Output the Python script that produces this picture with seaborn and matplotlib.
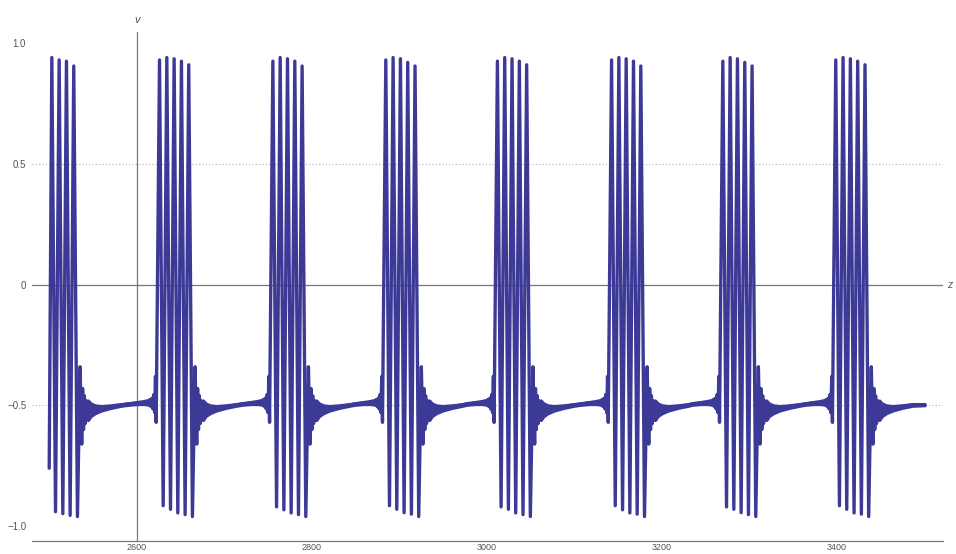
import matplotlib
matplotlib.use("Agg")
import matplotlib.pyplot as plt
import seaborn as sns
import pandas as pd

# first visible spike peak of every burst
burst_start = [2503.0, 2626.0, 2755.5, 2884.5, 3012.0, 3142.4, 3269.5, 3398.5]
spike_gap = 8.35
trough_lag = 4.2
burst_peaks = [
    [0.94, 0.93, 0.925, 0.905],
    [0.93, 0.94, 0.935, 0.925, 0.91],
    [0.925, 0.94, 0.935, 0.925, 0.905],
    [0.93, 0.94, 0.935, 0.92, 0.905],
    [0.925, 0.94, 0.935, 0.925, 0.91],
    [0.93, 0.94, 0.935, 0.925, 0.905],
    [0.925, 0.94, 0.935, 0.92, 0.905],
    [0.93, 0.94, 0.935, 0.925, 0.91],
]
burst_troughs = [
    [-0.94, -0.948, -0.955, -0.96],
    [-0.915, -0.93, -0.945, -0.952, -0.96],
    [-0.92, -0.932, -0.945, -0.952, -0.96],
    [-0.915, -0.93, -0.944, -0.95, -0.96],
    [-0.92, -0.93, -0.945, -0.952, -0.96],
    [-0.915, -0.932, -0.945, -0.95, -0.96],
    [-0.92, -0.93, -0.944, -0.952, -0.96],
    [-0.915, -0.93, -0.945, -0.95, -0.96],
]
trace_start = (2500.0, -0.76)
trace_end = (3500.0, -0.497)

# ringing right after a burst (offset from last trough)
post_dt = [3.0, 4.9, 5.9, 6.9, 7.9, 8.9, 9.9, 10.9]
post_v = [-0.34, -0.66, -0.43, -0.60, -0.46, -0.575, -0.48, -0.56]
# quiet band after a burst (offset from last trough)
band_post_dt = [12, 15, 20, 27, 38, 50]
band_post_mid = [-0.52, -0.518, -0.516, -0.512, -0.505, -0.498]
band_post_amp = [0.04, 0.026, 0.016, 0.009, 0.005, 0.003]
# quiet band before a burst (offset from first peak)
band_pre_dt = [-35, -25, -18, -13, -11.5]
band_pre_mid = [-0.494, -0.49, -0.488, -0.487, -0.487]
band_pre_amp = [0.003, 0.004, 0.006, 0.009, 0.012]
# growing wiggles right before a burst (offset from first peak)
pre_dt = [-10.5, -9.5, -8.5, -7.5, -6.5, -5.5, -4.6, -3.8]
pre_v = [-0.475, -0.505, -0.47, -0.515, -0.455, -0.53, -0.38, -0.57]

line_color = "#3c3a96"
axis_color = "#777777"
text_color = "#555555"

t, v = [trace_start[0]], [trace_start[1]]
bands = []
for i, (t0, pk, tr) in enumerate(zip(burst_start, burst_peaks, burst_troughs)):
    if i > 0:
        for dt, m, a in zip(band_pre_dt, band_pre_mid, band_pre_amp):
            t.append(t0 + dt)
            v.append(m)
            bands[-1].append((t0 + dt, m, a))
        for dt, y in zip(pre_dt, pre_v):
            t.append(t0 + dt)
            v.append(y)
    for k, (p, q) in enumerate(zip(pk, tr)):
        t += [t0 + k * spike_gap, t0 + k * spike_gap + trough_lag]
        v += [p, q]
    t_last = t[-1]
    for dt, y in zip(post_dt, post_v):
        t.append(t_last + dt)
        v.append(y)
    seg = []
    for dt, m, a in zip(band_post_dt, band_post_mid, band_post_amp):
        t.append(t_last + dt)
        v.append(m)
        seg.append((t_last + dt, m, a))
    bands.append(seg)
t.append(trace_end[0])
v.append(trace_end[1])
bands[-1].append((trace_end[0], trace_end[1], 0.002))

df = pd.DataFrame({"z": t, "v": v})

sns.set_theme(style="white")
plt.rcParams["font.family"] = ["Liberation Sans", "DejaVu Sans"]
plt.rcParams["lines.solid_capstyle"] = "round"

fig = plt.figure(figsize=(9.56, 5.54), dpi=100)
ax = fig.add_axes([31.7 / 956, 13.3 / 554, 911.3 / 956, 509.0 / 554])

ax.axhline(0.5, color="#b0b0b0", lw=0.8, ls=(0, (1, 2)), zorder=1)
ax.axhline(-0.5, color="#b0b0b0", lw=0.8, ls=(0, (1, 2)), zorder=1)
ax.axhline(0, color=axis_color, lw=0.9, zorder=1)
ax.axvline(2600, color=axis_color, lw=0.9, zorder=1)

for seg in bands:
    bt = [s[0] for s in seg]
    lo = [s[1] - s[2] for s in seg]
    hi = [s[1] + s[2] for s in seg]
    ax.fill_between(bt, lo, hi, color=line_color, lw=2.4, edgecolor=line_color, zorder=3)

sns.lineplot(data=df, x="z", y="v", sort=False, estimator=None, color=line_color,
             lw=2.4, ax=ax, zorder=4)

ax.set_xlim(2480, 3521)
ax.set_ylim(-1.06, 1.047)
ax.set_xticks([2600, 2800, 3000, 3200, 3400])
ax.set_yticks([-1.0, -0.5, 0, 0.5, 1.0])
ax.set_yticklabels(["\u22121.0", "\u22120.5", "0", "0.5", "1.0"])
ax.set_xlabel("")
ax.set_ylabel("")

for side in ["top", "right", "left"]:
    ax.spines[side].set_visible(False)
ax.spines["bottom"].set_color(axis_color)
ax.spines["bottom"].set_linewidth(0.9)
ax.tick_params(axis="x", direction="in", length=6, width=0.8, color=axis_color,
               labelsize=6.5, labelcolor=text_color, pad=1.5)
ax.tick_params(axis="y", length=0, labelsize=7, labelcolor=text_color, pad=4)

ax.annotate("v", xy=(2600, 1.047), xytext=(0, 5), textcoords="offset points",
            ha="center", va="bottom", fontsize=8, style="italic", color=text_color,
            annotation_clip=False)
ax.annotate("z", xy=(1, 0), xycoords=("axes fraction", "data"), xytext=(3, 0),
            textcoords="offset points", ha="left", va="center", fontsize=7.5,
            style="italic", color=text_color, annotation_clip=False)

fig.savefig("out.png", dpi=100)
